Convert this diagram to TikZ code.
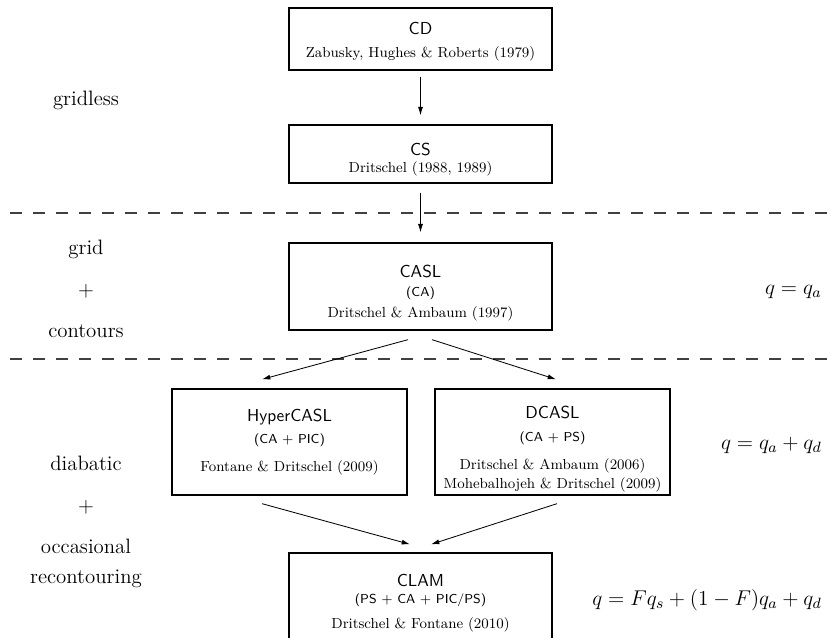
\RequirePackage{fix-cm}
\documentclass[tikz,border=0pt]{standalone}
\usepackage{tikz}
\usetikzlibrary{arrows.meta,positioning}

\newcommand{\boxtitle}{\fontsize{10.4}{12.5}\selectfont\sffamily}
\newcommand{\boxsub}{\fontsize{7.8}{9.4}\selectfont\sffamily}
\newcommand{\headroom}[1]{\rule{0pt}{#1}}

\begin{document}
\begin{tikzpicture}[x=0.6pt, y=-0.6pt,
  method/.style={draw, line width=0.8pt, align=center, inner sep=0pt,
    font=\fontsize{8.7}{10.5}\selectfont},
  regime/.style={align=center, font=\fontsize{12.5}{15}\selectfont},
  law/.style={anchor=east, inner sep=0pt, font=\fontsize{12.8}{15}\selectfont},
  link/.style={-{Latex[length=5pt,width=3pt]}, line width=0.5pt},
  divider/.style={line width=1pt, black!75, dash pattern=on 7.2pt off 6.6pt}]
  \useasboundingbox (0,0) rectangle (831,638);
  \clip (0,0) rectangle (831,638);

  % contour dynamics / contour surgery
  \node[method, minimum width=157.8pt, minimum height=37.2pt] (cd) at (420.5,39)
    {{\boxtitle CD\headroom{10.8pt}}\\[3.3pt]Zabusky, Hughes \& Roberts (1979)};
  \node[method, minimum width=157.8pt, minimum height=34.8pt] (cs) at (420.5,154)
    {{\boxtitle CS\headroom{14.4pt}}\\Dritschel (1988, 1989)};

  % contour advection
  \node[method, minimum width=157.8pt, minimum height=52.2pt] (casl) at (420.5,286.5)
    {{\boxtitle CASL\headroom{15.7pt}}\\[0.5pt]{\boxsub (CA)}\\[2.5pt]Dritschel \& Ambaum (1997)};

  % diabatic methods
  \node[method, minimum width=141pt, minimum height=63.6pt] (hyper) at (289.5,442)
    {{\boxtitle HyperCASL}\\[3pt]{\boxsub (CA $+$ PIC)}\\[6pt]Fontane \& Dritschel (2009)};
  \node[method, minimum width=141pt, minimum height=63.6pt] (dcasl) at (552.5,442)
    {{\boxtitle DCASL\headroom{15.7pt}}\\[3.6pt]{\boxsub (CA $+$ PS)}\\[6.2pt]Dritschel \& Ambaum (2006)\\[0.6pt]Mohebalhojeh \& Dritschel (2009)};
  \node[method, minimum width=157.8pt, minimum height=60pt] (clam) at (420.5,603)
    {{\boxtitle CLAM}\\{\boxsub (PS $+$ CA $+$ PIC/PS)}\\[4pt]Dritschel \& Fontane (2010)};

  \draw[divider] (10,213) -- (831,213);
  \draw[divider] (10,359) -- (831,359);

  \node[regime] (gridless) at (86,100) {gridless};
  \node[regime] (grid) at (86,289) {grid\\[10pt]$+$\\[10pt]contours};
  \node[regime] (diabatic) at (86,522) {diabatic\\[10pt]$+$\\[10pt]occasional\\[3pt]recontouring};

  \node[law] (qa) at (822,292) {$q=q_a$};
  \node[law] (qad) at (822,445) {$q=q_a+q_d$};
  \node[law] (qfull) at (822,600) {$q=Fq_s+(1-F)q_a+q_d$};

  \draw[link] ([yshift=-3.6pt]cd.south) -- ([yshift=5.4pt]cs.north);
  \draw[link] ([yshift=-5.4pt]cs.south) -- ([yshift=6pt]casl.north);
  \draw[link] ([xshift=-7.5pt,yshift=-5.4pt]casl.south) -- ([xshift=-16.5pt,yshift=5.4pt]hyper.north);
  \draw[link] ([xshift=6.9pt,yshift=-5.4pt]casl.south) -- ([xshift=2.1pt,yshift=5.4pt]dcasl.north);
  \draw[link] ([xshift=-16.5pt,yshift=-4.8pt]hyper.south) -- ([xshift=-6.3pt,yshift=4.8pt]clam.north);
  \draw[link] ([xshift=2.7pt,yshift=-4.8pt]dcasl.south) -- ([xshift=6.3pt,yshift=4.8pt]clam.north);
\end{tikzpicture}
\end{document}
